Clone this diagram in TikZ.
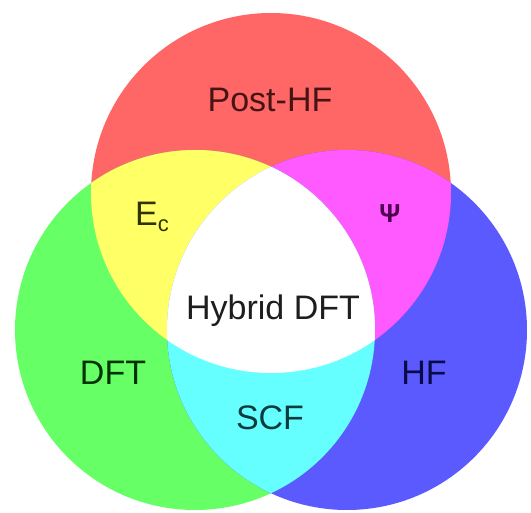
\documentclass[tikz,border=0pt]{standalone}
\usepackage{fontspec}
\setmainfont{Liberation Sans}
\definecolor{cR}{RGB}{255,102,102}
\definecolor{cG}{RGB}{102,255,102}
\definecolor{cB}{RGB}{90,90,255}
\definecolor{cY}{RGB}{255,255,102}
\definecolor{cM}{RGB}{255,90,255}
\definecolor{cC}{RGB}{102,255,255}
\definecolor{tR}{RGB}{70,20,20}
\definecolor{tG}{RGB}{0,50,0}
\definecolor{tB}{RGB}{10,10,70}
\definecolor{tC}{RGB}{10,60,60}
\definecolor{tY}{RGB}{50,50,0}
\definecolor{tM}{RGB}{80,0,80}
\definecolor{tK}{RGB}{30,30,30}
\tikzset{
  lbl/.style={anchor=base, inner sep=0pt, font=\fontsize{34}{40}\selectfont},
}
\begin{document}
\begin{tikzpicture}[x=1pt,y=-1pt]
\useasboundingbox (0,0) rectangle (531,513);
\def\rr{180}
\coordinate (cr) at (271,193);
\coordinate (cg) at (195,330);
\coordinate (cb) at (347,330);
\fill[cR] (cr) circle (\rr);
\fill[cG] (cg) circle (\rr);
\fill[cB] (cb) circle (\rr);
\begin{scope}
  \clip (cr) circle (\rr);
  \fill[cY] (cg) circle (\rr);
  \fill[cM] (cb) circle (\rr);
\end{scope}
\begin{scope}
  \clip (cg) circle (\rr);
  \fill[cC] (cb) circle (\rr);
\end{scope}
\begin{scope}
  \clip (cr) circle (\rr);
  \clip (cg) circle (\rr);
  \fill[white] (cb) circle (\rr);
\end{scope}
\node[lbl, text=tR] (post) at (270,112) {Post-HF};
\node[lbl, text=tK] (hyb) at (273,320) {Hybrid DFT};
\node[lbl, text=tG] (dft) at (113,385) {DFT};
\node[lbl, text=tB] (hf) at (424,385) {HF};
\node[lbl, text=tC] (scf) at (270,430) {SCF};
\node[anchor=base west, inner sep=0pt, text=tY, font=\fontsize{34}{40}\selectfont] (ec) at (135,226) {E\raisebox{-6pt}{\fontsize{22}{24}\selectfont c}};
\node[anchor=base, inner sep=0pt, text=tM, font=\fontsize{26}{30}\selectfont\bfseries] (psi) at (390,223) {Ψ};
\end{tikzpicture}
\end{document}
